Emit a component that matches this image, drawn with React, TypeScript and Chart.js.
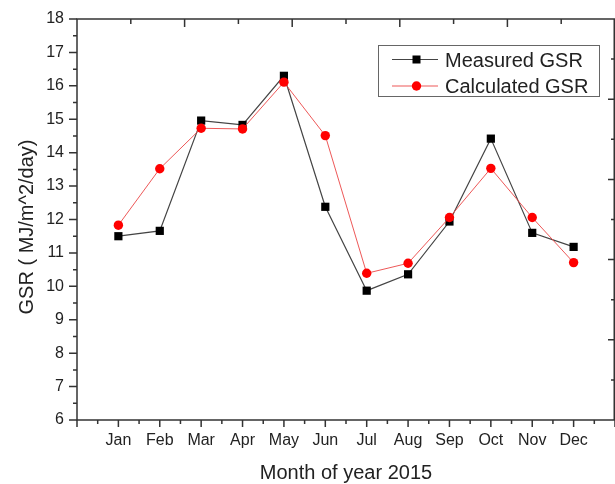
import React, { useEffect, useRef } from "react";
import { Chart, registerables } from "chart.js";

Chart.register(...registerables);

const months = ["Jan", "Feb", "Mar", "Apr", "May", "Jun", "Jul", "Aug", "Sep", "Oct", "Nov", "Dec"];
const monthIndex = [1, 2, 3, 4, 5, 6, 7, 8, 9, 10, 11, 12];
const measuredGSR = [11.5, 11.66, 14.96, 14.83, 16.3, 12.38, 9.87, 10.36, 11.94, 14.42, 11.6, 11.18];
const calculatedGSR = [11.83, 13.52, 14.73, 14.71, 16.11, 14.51, 10.39, 10.69, 12.06, 13.53, 12.06, 10.71];
const xRange = [0, 13];
const yRange = [6, 18];
const xTitle = "Month of year 2015";
const yTitle = "GSR ( MJ/m^2/day)";
const legendLabels = ["Measured GSR", "Calculated GSR"];

const FONT = "'Liberation Sans', Arial, Helvetica, sans-serif";
const TEXT = "#222";
const AXIS = "#333";

const framePlugin = {
  id: "frame",
  beforeDatasetsDraw(chart: any) {
    const ctx = chart.ctx;
    const { left, right, top, bottom } = chart.chartArea;
    const xs = chart.scales.x;
    const ys = chart.scales.y;
    ctx.save();
    ctx.strokeStyle = AXIS;
    ctx.lineWidth = 1.5;
    ctx.beginPath();
    ctx.moveTo(left, top);
    ctx.lineTo(right - 0.75, top);
    ctx.lineTo(right - 0.75, bottom);
    ctx.lineTo(left, bottom);
    ctx.closePath();
    ctx.stroke();
    ctx.beginPath();
    // bottom axis ticks (outward)
    for (let v = xRange[0]; v <= xRange[1] + 1e-9; v += 0.5) {
      const x = xs.getPixelForValue(v);
      const len = Number.isInteger(v) ? 7 : 4;
      ctx.moveTo(x, bottom);
      ctx.lineTo(x, bottom + len);
    }
    // left axis ticks (outward)
    for (let v = yRange[0]; v <= yRange[1] + 1e-9; v += 0.5) {
      const y = ys.getPixelForValue(v);
      const len = Number.isInteger(v) ? 8 : 4;
      ctx.moveTo(left, y);
      ctx.lineTo(left - len, y);
    }
    // top axis ticks (inward)
    for (let k = 1; k < 10; k++) {
      const x = left + (k * (right - left)) / 10;
      const len = k % 2 === 0 ? 8 : 5;
      ctx.moveTo(x, top);
      ctx.lineTo(x, top + len);
    }
    // right axis ticks (inward)
    for (let k = 1; k < 10; k++) {
      const y = bottom - (k * (bottom - top)) / 10;
      const len = k % 2 === 0 ? 7 : 4;
      ctx.moveTo(right, y);
      ctx.lineTo(right - len, y);
    }
    ctx.stroke();
    ctx.restore();
  },
  afterDraw(chart: any) {
    const ctx = chart.ctx;
    const { left, right } = chart.chartArea;
    ctx.save();
    ctx.fillStyle = TEXT;
    ctx.font = `20px ${FONT}`;
    ctx.textAlign = "center";
    ctx.textBaseline = "alphabetic";
    ctx.fillText(xTitle, (left + right) / 2, 479);
    ctx.save();
    ctx.translate(33, 227);
    ctx.rotate(-Math.PI / 2);
    ctx.fillText(yTitle, 0, 0);
    ctx.restore();

    // legend
    const bx = 378.5, by = 45.5, bw = 221, bh = 51;
    ctx.strokeStyle = "#666";
    ctx.lineWidth = 1;
    ctx.strokeRect(bx, by, bw, bh);
    const rows = [59.5, 86];
    const styles = [
      { line: "#444", fill: "#000", shape: "rect" },
      { line: "rgba(235,70,70,0.9)", fill: "#ff0000", shape: "circle" },
    ];
    legendLabels.forEach((label, i) => {
      const y = rows[i];
      const s = styles[i];
      ctx.strokeStyle = s.line;
      ctx.lineWidth = 1;
      ctx.beginPath();
      ctx.moveTo(392, y);
      ctx.lineTo(438, y);
      ctx.stroke();
      ctx.fillStyle = s.fill;
      if (s.shape === "rect") {
        ctx.fillRect(412.5, y - 4, 8, 8);
      } else {
        ctx.beginPath();
        ctx.arc(416.5, y, 4.7, 0, Math.PI * 2);
        ctx.fill();
      }
      ctx.fillStyle = TEXT;
      ctx.textAlign = "left";
      ctx.textBaseline = "alphabetic";
      ctx.font = `20px ${FONT}`;
      ctx.fillText(label, 445, y + 7.3);
    });
    ctx.restore();
  },
};

export default function App() {
  const ref = useRef<HTMLCanvasElement | null>(null);

  useEffect(() => {
    if (!ref.current) return;
    const chart = new Chart(ref.current, {
      type: "line",
      data: {
        datasets: [
          {
            label: legendLabels[0],
            data: monthIndex.map((m, i) => ({ x: m, y: measuredGSR[i] })),
            borderColor: "#444",
            borderWidth: 1.2,
            backgroundColor: "#000",
            pointStyle: "rect",
            pointRadius: 5.8,
            pointBorderWidth: 0,
            pointBackgroundColor: "#000",
            pointBorderColor: "#000",
            tension: 0,
            order: 2,
          },
          {
            label: legendLabels[1],
            data: monthIndex.map((m, i) => ({ x: m, y: calculatedGSR[i] })),
            borderColor: "rgba(235,70,70,0.9)",
            borderWidth: 1,
            backgroundColor: "#ff0000",
            pointStyle: "circle",
            pointRadius: 4.7,
            pointBorderWidth: 0,
            pointBackgroundColor: "#ff0000",
            pointBorderColor: "#ff0000",
            tension: 0,
            order: 1,
          },
        ],
      },
      options: {
        responsive: false,
        animation: false,
        layout: { autoPadding: false, padding: { top: 19, right: 0, left: 0, bottom: 0 } },
        plugins: {
          legend: { display: false },
          tooltip: { enabled: false },
          title: { display: false },
        },
        scales: {
          x: {
            type: "linear",
            min: xRange[0],
            max: xRange[1],
            grid: { display: false, drawTicks: false },
            border: { display: false },
            afterFit: (s: any) => {
              s.height = 64;
              s.paddingLeft = 0;
              s.paddingRight = 0;
            },
            ticks: {
              stepSize: 1,
              autoSkip: false,
              maxRotation: 0,
              padding: 11,
              color: TEXT,
              font: { family: FONT, size: 16 },
              callback: (v: any) => {
                const n = Number(v);
                return Number.isInteger(n) && n >= 1 && n <= 12 ? months[n - 1] : "";
              },
            },
          },
          y: {
            type: "linear",
            min: yRange[0],
            max: yRange[1],
            grid: { display: false, drawTicks: false },
            border: { display: false },
            afterFit: (s: any) => {
              s.width = 77;
              s.paddingTop = 0;
              s.paddingBottom = 0;
            },
            ticks: {
              stepSize: 1,
              autoSkip: false,
              padding: 13,
              color: TEXT,
              font: { family: FONT, size: 16 },
            },
          },
        },
      },
      plugins: [framePlugin],
    } as any);
    return () => chart.destroy();
  }, []);

  return (
    <div style={{ position: "fixed", left: 0, top: 0, width: 615, height: 484, background: "#fff" }}>
      <canvas ref={ref} width={615} height={484} style={{ display: "block" }} />
    </div>
  );
}
